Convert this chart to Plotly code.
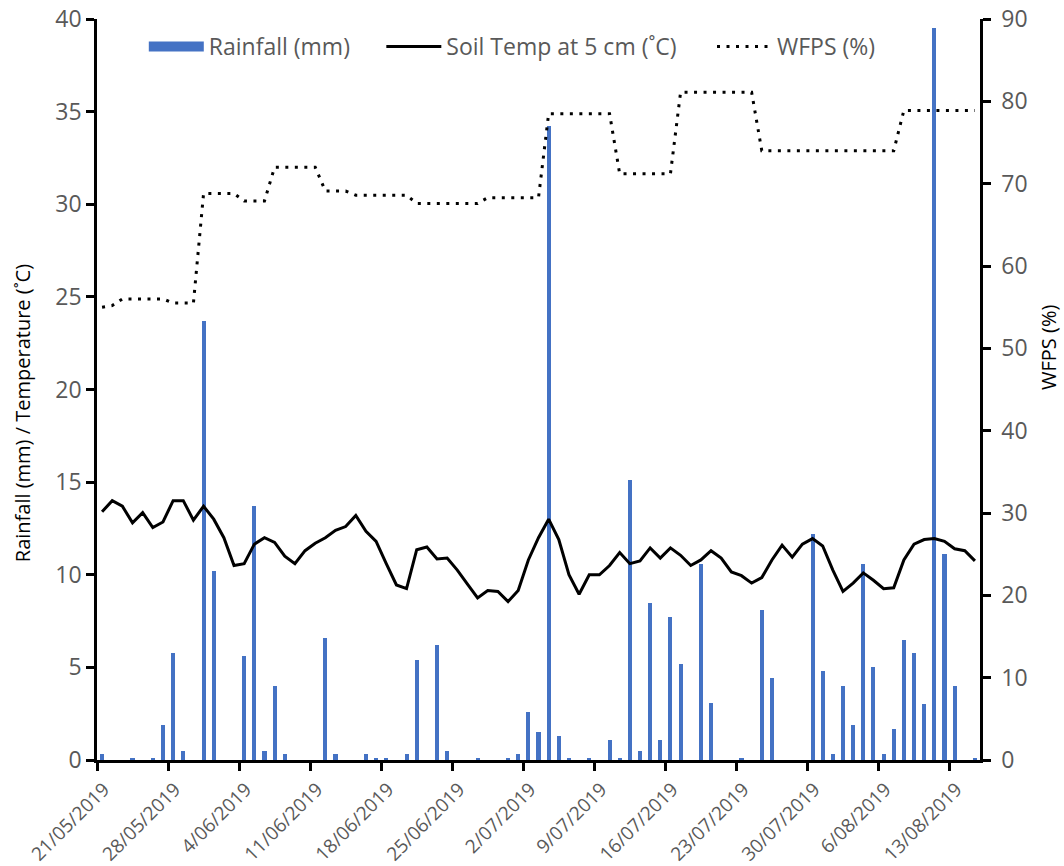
import pandas as pd
import plotly.graph_objects as go

# ---- data ----
start_date = "2019-05-21"
n_days = 87
dates = pd.date_range(start_date, periods=n_days, freq="D") + pd.Timedelta(hours=12)

rainfall_mm = [
    0.3, 0, 0, 0.1, 0, 0.1, 1.9, 5.8, 0.5, 0,
    23.7, 10.2, 0, 0, 5.6, 13.7, 0.5, 4.0, 0.3, 0,
    0, 0, 6.6, 0.3, 0, 0, 0.3, 0.1, 0.1, 0,
    0.3, 5.4, 0, 6.2, 0.5, 0, 0, 0.1, 0, 0,
    0.1, 0.3, 2.6, 1.5, 34.2, 1.3, 0.1, 0, 0.1, 0,
    1.1, 0.1, 15.1, 0.5, 8.5, 1.1, 7.7, 5.2, 0, 10.6,
    3.1, 0, 0, 0.1, 0, 8.1, 4.4, 0, 0, 0,
    12.2, 4.8, 0.3, 4.0, 1.9, 10.6, 5.0, 0.3, 1.7, 6.5,
    5.8, 3.0, 39.5, 11.1, 4.0, 0, 0.1,
]

soil_temp_c = [
    13.4, 14.0, 13.7, 12.8, 13.35, 12.55, 12.85, 14.0, 14.0, 12.95,
    13.7, 13.0, 12.0, 10.5, 10.6, 11.65, 12.0, 11.75, 11.0, 10.6,
    11.3, 11.7, 12.0, 12.4, 12.6, 13.2, 12.35, 11.8, 10.6, 9.45,
    9.25, 11.35, 11.5, 10.85, 10.9, 10.25, 9.5, 8.75, 9.15, 9.1,
    8.55, 9.15, 10.8, 12.0, 13.0, 11.9, 10.0, 8.95, 10.0, 10.0,
    10.5, 11.2, 10.6, 10.75, 11.45, 10.9, 11.45, 11.05, 10.5, 10.8,
    11.3, 10.9, 10.15, 9.95, 9.55, 9.85, 10.8, 11.6, 10.95, 11.65,
    11.95, 11.55, 10.25, 9.1, 9.55, 10.1, 9.7, 9.25, 9.3, 10.8,
    11.65, 11.9, 11.95, 11.8, 11.4, 11.3, 10.75,
]

wfps_pct = [
    55.0, 55.2, 56.0, 56.0, 56.0, 56.0, 56.0, 55.5, 55.5, 55.5,
    68.8, 68.8, 68.8, 68.8, 67.9, 67.9, 67.9, 72.0, 72.0, 72.0,
    72.0, 72.0, 69.1, 69.1, 69.1, 68.6, 68.6, 68.6, 68.6, 68.6,
    68.6, 67.6, 67.6, 67.6, 67.6, 67.6, 67.6, 67.6, 68.3, 68.3,
    68.3, 68.3, 68.3, 68.3, 78.5, 78.5, 78.5, 78.5, 78.5, 78.5,
    78.5, 71.2, 71.2, 71.2, 71.2, 71.2, 71.2, 81.1, 81.1, 81.1,
    81.1, 81.1, 81.1, 81.1, 81.1, 74.0, 74.0, 74.0, 74.0, 74.0,
    74.0, 74.0, 74.0, 74.0, 74.0, 74.0, 74.0, 74.0, 74.0, 78.9,
    78.9, 78.9, 78.9, 78.9, 78.9, 78.9, 78.9,
]

x_range = ["2019-05-21", "2019-08-16"]
left_ticks = list(range(0, 41, 5))
right_ticks = list(range(0, 91, 10))
left_title = "Rainfall (mm) / Temperature (˚C)"
right_title = "WFPS (%)"

# ---- figure ----
FONT = "Open Sans"
GREY = "#595959"
BLUE = "#4472C4"
DAY_MS = 86400000
DOT = "3px,6.5px"

fig = go.Figure()
fig.add_trace(go.Bar(
    x=dates, y=rainfall_mm, name="Rainfall (mm)", showlegend=False,
    marker=dict(color=BLUE, line=dict(width=0)),
    width=0.4 * DAY_MS,
))
fig.add_trace(go.Scatter(
    x=dates, y=soil_temp_c, name="Soil Temp at 5 cm (˚C)", showlegend=False,
    mode="lines", line=dict(color="black", width=3),
))
fig.add_trace(go.Scatter(
    x=dates, y=wfps_pct, name="WFPS (%)", yaxis="y2", showlegend=False,
    mode="lines", line=dict(color="black", width=3, dash=DOT),
))
# legend entries (no marks drawn)
fig.add_trace(go.Scatter(x=[None], y=[None], mode="lines", name="Rainfall (mm)",
                         line=dict(color=BLUE, width=13), legend="legend"))
fig.add_trace(go.Scatter(x=[None], y=[None], mode="lines", name="Soil Temp at 5 cm (˚C)",
                         line=dict(color="black", width=3), legend="legend2"))
fig.add_trace(go.Scatter(x=[None], y=[None], mode="lines", name="WFPS (%)",
                         line=dict(color="black", width=3, dash=DOT), legend="legend3"))

axis_common = dict(
    showgrid=False, zeroline=False, showline=True, linecolor="black",
    linewidth=2.5, ticks="outside", ticklen=8, tickwidth=2.5,
    tickcolor="black", automargin=False,
)

leg_common = dict(
    orientation="h", y=0.992, xanchor="left", yanchor="top",
    font=dict(family=FONT, size=23, color=GREY),
    bgcolor="rgba(0,0,0,0)", itemwidth=55,
)

fig.update_layout(
    width=1064, height=866,
    margin=dict(l=97, r=84, t=19, b=106),
    paper_bgcolor="white", plot_bgcolor="white",
    font=dict(family=FONT, color=GREY),
    showlegend=True,
    legend=dict(x=0.053, **leg_common),
    legend2=dict(x=0.322, **leg_common),
    legend3=dict(x=0.6965, **leg_common),
    bargap=0,
    xaxis=dict(
        type="date", range=x_range, tick0=x_range[0], dtick=7 * DAY_MS,
        tickformat="%-d/%m/%Y", tickangle=-45, ticklabelshift=7,
        tickfont=dict(family=FONT, size=19, color=GREY), **axis_common,
    ),
    yaxis=dict(
        range=[0, 40], tickvals=left_ticks,
        tickfont=dict(family=FONT, size=23, color=GREY),
        **axis_common,
    ),
    yaxis2=dict(
        range=[0, 90], tickvals=right_ticks, overlaying="y", side="right",
        tickfont=dict(family=FONT, size=23, color=GREY), ticklabelstandoff=6,
        **axis_common,
    ),
    annotations=[
        dict(text=left_title, xref="paper", yref="paper", x=0, y=0.468,
             xshift=-75, xanchor="center", yanchor="middle", textangle=-90,
             showarrow=False, font=dict(family=FONT, size=20, color="black")),
        dict(text=right_title, xref="paper", yref="paper", x=1, y=0.556,
             xshift=68, xanchor="center", yanchor="middle", textangle=-90,
             showarrow=False, font=dict(family=FONT, size=20, color="black")),
    ],
)

fig.write_html(
    "out.html",
    config={"displayModeBar": False},
    post_script="document.body.style.margin='0';document.body.style.overflow='hidden';",
)
